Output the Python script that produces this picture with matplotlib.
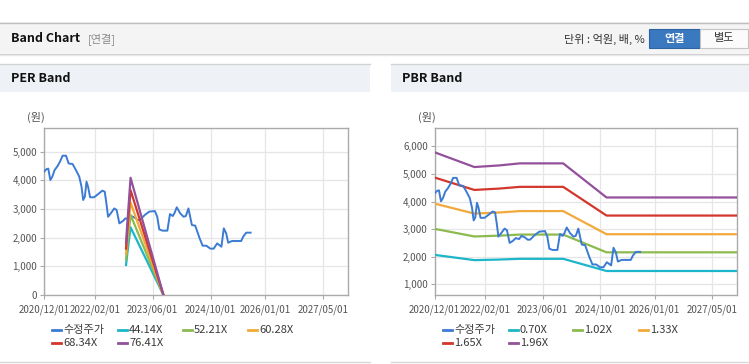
import numpy as np
import pandas as pd
import matplotlib
matplotlib.use('Agg')
import matplotlib.pyplot as plt
import matplotlib.dates as mdates
from matplotlib.patches import Rectangle
from matplotlib.lines import Line2D

plt.rcParams['font.family'] = ['Noto Sans CJK KR', 'DejaVu Sans']

# 수정주가 (adjusted close)
price_dates = ['2020-12-01', '2020-12-20', '2021-01-06', '2021-01-23', '2021-02-09', '2021-02-28',
               '2021-03-25', '2021-04-14', '2021-05-06', '2021-06-04', '2021-06-26', '2021-07-29',
               '2021-08-26', '2021-09-23', '2021-10-12', '2021-10-26', '2021-11-09', '2021-11-23',
               '2021-12-06', '2021-12-23', '2022-01-26', '2022-03-02', '2022-04-05', '2022-04-25',
               '2022-05-09', '2022-05-23', '2022-06-15', '2022-07-14', '2022-08-03', '2022-08-26',
               '2022-09-24', '2022-10-16', '2022-11-14', '2022-12-04', '2023-01-02', '2023-01-25',
               '2023-02-14', '2023-03-27', '2023-05-03', '2023-06-20', '2023-07-10', '2023-07-27',
               '2023-08-24', '2023-10-03', '2023-10-25', '2023-11-17', '2023-12-01', '2023-12-21',
               '2024-01-19', '2024-02-16', '2024-03-06', '2024-03-28', '2024-04-26', '2024-05-24',
               '2024-06-30', '2024-07-25', '2024-08-25', '2024-09-28', '2024-10-26', '2024-11-24',
               '2024-12-08', '2024-12-30', '2025-01-19', '2025-02-08', '2025-02-25', '2025-03-29',
               '2025-04-27', '2025-06-14', '2025-07-01', '2025-07-26', '2025-09-01']
price_values = [4300, 4385, 4410, 4010, 4130, 4360,
                4500, 4650, 4860, 4860, 4590, 4570,
                4360, 4130, 3780, 3315, 3430, 3955,
                3780, 3410, 3410, 3525, 3640, 3605,
                3200, 2730, 2850, 3020, 2965, 2500,
                2580, 2675, 2640, 2755, 2700, 2617,
                2617, 2790, 2908, 2930, 2730, 2290,
                2245, 2245, 2825, 2755, 2850, 3060,
                2850, 2730, 2755, 3020, 2440, 2420,
                1977, 1720, 1720, 1617, 1617, 1800,
                1755, 1686, 2326, 2150, 1825, 1884,
                1884, 1884, 2035, 2175, 2175]

# PER band lines
per_dates = ['2022-10-21', '2022-11-01', '2022-11-28', '2023-08-31']
per_labels = ['44.14X', '52.21X', '60.28X', '68.34X', '76.41X']
per_44 = [1047, 1455, 2362, 0]
per_52 = [1238, 1721, 2794, 0]
per_60 = [1429, 1987, 3226, 0]
per_68 = [1620, 2253, 3657, 0]
per_76 = [1811, 2519, 4089, 0]

# PBR band lines
pbr_dates = ['2020-12-01', '2021-11-01', '2022-06-01', '2022-11-20', '2023-11-21', '2024-11-21', '2028-02-01']
pbr_labels = ['0.70X', '1.02X', '1.33X', '1.65X', '1.96X']
pbr_070 = [2066, 1876, 1897, 1924, 1924, 1482, 1482]
pbr_102 = [3011, 2734, 2764, 2803, 2803, 2159, 2159]
pbr_133 = [3926, 3564, 3604, 3655, 3655, 2816, 2816]
pbr_165 = [4871, 4422, 4472, 4534, 4534, 3493, 3493]
pbr_196 = [5786, 5253, 5312, 5386, 5386, 4149, 4149]

tick_dates = ['2020-12-01', '2022-02-01', '2023-06-01', '2024-10-01', '2026-01-01', '2027-05-01']

price_color = '#3b7bd4'
band_colors = ['#1db5c9', '#8dba4f', '#f2a93b', '#d3362c', '#93509b']

W, H = 749, 364
fig = plt.figure(figsize=(W / 100, H / 100), dpi=100)
fig.patch.set_facecolor('white')

def fx(x):
    return x / W

def fy(y):
    return 1 - y / H

def rect(x0, y0, x1, y1, fc, ec='none', lw=0):
    fig.patches.append(Rectangle((fx(x0), fy(y1)), fx(x1) - fx(x0), fy(y0) - fy(y1),
                                 transform=fig.transFigure, facecolor=fc, edgecolor=ec, linewidth=lw))

def hline(x0, x1, y, color, lw=1.0):
    fig.add_artist(Line2D([fx(x0), fx(x1)], [fy(y), fy(y)], transform=fig.transFigure, color=color, lw=lw))

# top header strip
rect(0, 22, W, 53, '#f4f4f4')
hline(0, W, 22.5, '#bdbdbd', 1.0)
hline(0, W, 53.5, '#cccccc', 1.0)
hline(0, W, 54.5, '#e8e8e8', 1.0)
fig.text(fx(11), fy(39), 'Band Chart', fontsize=9, fontweight='bold', color='#111111', va='center')
fig.text(fx(88), fy(39), '[연결]', fontsize=8, color='#8a8a8a', va='center')
fig.text(fx(645), fy(39), '단위 : 억원, 배, %', fontsize=8, color='#333333', va='center', ha='right')
rect(649, 29, 700, 48, '#3a78c0', '#2e64a3', 0.8)
rect(700, 29, 748, 48, '#fbfbfb', '#c4c4c4', 0.8)
fig.text(fx(674.5), fy(38.5), '연결', fontsize=8, fontweight='bold', color='white', va='center', ha='center')
fig.text(fx(724), fy(38.5), '별도', fontsize=8, color='#333333', va='center', ha='center')

# panel headers
for x0, x1, title in [(0, 370, 'PER Band'), (391, W, 'PBR Band')]:
    rect(x0, 64, x1, 92, '#eef1f6')
    hline(x0, x1, 63.5, '#d3d3d3', 1.0)
    hline(x0, x1, 362, '#d8d8d8', 1.0)
    fig.text(fx(x0 + 11), fy(79), title, fontsize=9, fontweight='bold', color='#111111', va='center')

xmin = pd.Timestamp('2020-12-01')
xmax = pd.Timestamp('2027-11-28')

def style_axes(ax, ylim, yticks):
    ax.set_xlim(xmin, xmax)
    ax.set_ylim(*ylim)
    ax.set_yticks(yticks)
    ax.set_yticklabels([f'{v:,}' for v in yticks])
    ax.set_xticks(pd.to_datetime(tick_dates))
    ax.xaxis.set_major_formatter(mdates.DateFormatter('%Y/%m/%d'))
    ax.grid(True, color='#e6e6e6', lw=0.9)
    ax.set_axisbelow(True)
    for s in ax.spines.values():
        s.set_color('#aaaaaa')
        s.set_linewidth(1.0)
    ax.tick_params(axis='both', colors='#aaaaaa', labelcolor='#555555', labelsize=7, length=3, pad=2)
    ax.tick_params(axis='x', pad=4)

def legend(x_positions, rows_y, labels, colors):
    for i, (lab, col) in enumerate(zip(labels, colors)):
        x = x_positions[i % 4]
        y = rows_y[i // 4]
        fig.add_artist(Line2D([fx(x), fx(x + 9)], [fy(y), fy(y)], transform=fig.transFigure,
                              color=col, lw=2.0))
        fig.text(fx(x + 11), fy(y), lab, fontsize=8, color='#3a3a3a', va='center')

pd_price = pd.to_datetime(price_dates)

# PER chart
ax1 = fig.add_axes([fx(44), fy(295), fx(348) - fx(44), fy(128) - fy(295)])
ax1.plot(pd_price, price_values, color=price_color, lw=1.4, zorder=3)
per_series = [per_44, per_52, per_60, per_68, per_76]
for vals, col in zip(per_series, band_colors):
    ax1.plot(pd.to_datetime(per_dates), vals, color=col, lw=1.6, zorder=4)
style_axes(ax1, (0, 5827), [0, 1000, 2000, 3000, 4000, 5000])
fig.text(fx(36), fy(117), '(원)', fontsize=8, color='#555555', va='center', ha='center')
legend([52, 118, 183, 248], [330, 343], ['수정주가'] + per_labels, [price_color] + band_colors)

# PBR chart
ax2 = fig.add_axes([fx(434.7), fy(295), fx(737) - fx(434.7), fy(128) - fy(295)])
pbr_series = [pbr_070, pbr_102, pbr_133, pbr_165, pbr_196]
for vals, col in zip(pbr_series, band_colors):
    ax2.plot(pd.to_datetime(pbr_dates), vals, color=col, lw=1.6, zorder=3)
ax2.plot(pd_price, price_values, color=price_color, lw=1.4, zorder=4)
style_axes(ax2, (611, 6669), [1000, 2000, 3000, 4000, 5000, 6000])
fig.text(fx(427), fy(117), '(원)', fontsize=8, color='#555555', va='center', ha='center')
legend([443, 509, 573, 639], [330, 343], ['수정주가'] + pbr_labels, [price_color] + band_colors)

fig.savefig('out.png', dpi=100)
